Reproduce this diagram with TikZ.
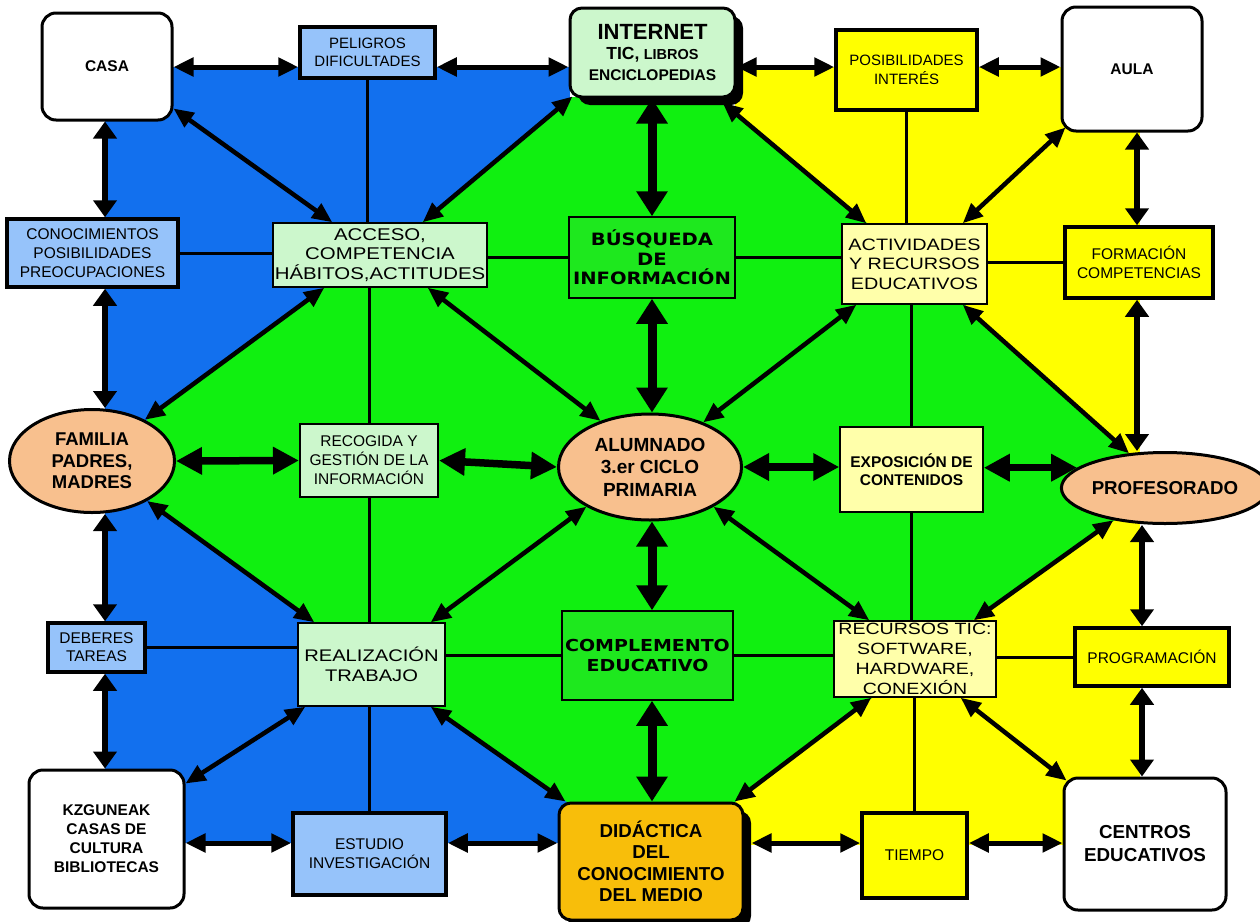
\documentclass[tikz,border=0pt]{standalone}
\usepackage{fontspec}
\setmainfont{Liberation Sans}
\newfontfamily\widefont[FakeStretch=1.2]{Liberation Sans}
\newfontfamily\widebold[FakeStretch=1.15]{DejaVu Sans}
\usetikzlibrary{arrows.meta,shapes.geometric,shadows}
\newcommand\setfs[2]{\fontsize{#1}{#2}\selectfont}

\definecolor{bgblue}{RGB}{18,112,238}
\definecolor{bggreen}{RGB}{16,240,16}
\definecolor{bgyellow}{RGB}{255,255,0}
\definecolor{boxblue}{RGB}{150,195,250}
\definecolor{boxmint}{RGB}{204,247,204}
\definecolor{boxcream}{RGB}{255,255,170}
\definecolor{boxgreen}{RGB}{30,232,30}
\definecolor{peach}{RGB}{248,192,142}
\definecolor{amber}{RGB}{248,190,10}

\tikzset{
  base/.style={draw=black, inner sep=0pt, align=center, text=black},
  venue/.style={base, rectangle, rounded corners=14pt, line width=3pt, fill=white},
  thickbox/.style={base, rectangle, line width=3.5pt},
  thinbox/.style={base, rectangle, line width=1.5pt},
  oval/.style={base, ellipse, line width=3pt, fill=peach},
  shade/.style={drop shadow={shadow xshift=8pt, shadow yshift=-8pt, opacity=1, fill=black}},
  link/.style={line width=3pt},
  arrH/.style={line width=5pt, {Triangle[length=20pt,width=18pt]}-{Triangle[length=20pt,width=18pt]}},
  arrV/.style={line width=5.5pt, {Triangle[length=17pt,width=23pt]}-{Triangle[length=17pt,width=23pt]}},
  arrM/.style={line width=7.5pt, {Triangle[length=26pt,width=26pt]}-{Triangle[length=26pt,width=26pt]}},
  arrC/.style={line width=9pt, {Triangle[length=25pt,width=30pt]}-{Triangle[length=25pt,width=30pt]}},
  arrD/.style={line width=4.5pt, {Triangle[length=20pt,width=17pt]}-{Triangle[length=20pt,width=17pt]}},
}

\begin{document}
\begin{tikzpicture}[x=1pt, y=-1pt]
\path[use as bounding box, fill=white] (0,0) rectangle (1260,921);

% coloured quarters behind the map
\fill[bgblue] (105,67) rectangle (570,843);
\fill[bgyellow] (735,67) rectangle (1140,845);
\fill[bggreen] (572,97) -- (722,100) -- (867,223) -- (962,302) -- (1130,455)
  -- (1118,518) -- (973,620) -- (872,698) -- (735,802) -- (567,802)
  -- (430,705) -- (315,623) -- (150,503) -- (147,418) -- (325,287)
  -- (422,222) -- cycle;

% places
\node[venue, minimum width=130pt, minimum height=107pt, font=\bfseries\setfs{15.5}{18}] (casa) at (107,66.5) {CASA};
\node[venue, minimum width=140pt, minimum height=124pt, font=\bfseries\setfs{15.5}{18}] (aula) at (1132,69) {AULA};
\node[venue, minimum width=155pt, minimum height=138pt, font=\bfseries\setfs{15.5}{19}] (kzgune) at (106.5,839) {KZGUNEAK\\CASAS DE\\CULTURA\\BIBLIOTECAS};
\node[venue, minimum width=162pt, minimum height=132pt, font=\bfseries\setfs{18.8}{23}] (centros) at (1145,844) {CENTROS\\EDUCATIVOS};
\node[venue, shade, fill=boxmint, rounded corners=12pt, minimum width=165pt, minimum height=89pt, font=\bfseries\setfs{15.5}{20.5}] (internet) at (652.5,52.5)
  {{\setfs{22}{20.5}INTERNET}\\{\setfs{17.5}{20.5}TIC,} {\setfs{14.5}{20.5}LIBROS}\\ENCICLOPEDIAS};
\node[venue, shade, fill=amber, rounded corners=12pt, minimum width=184pt, minimum height=117pt, font=\bfseries\setfs{18.7}{21.5}] (didac) at (651,861.5)
  {\raisebox{-4pt}{\parbox{184pt}{\centering DIDÁCTICA\\DEL\\CONOCIMIENTO\\DEL MEDIO}}};

% outer boxes
\node[thickbox, fill=boxblue, minimum width=135pt, minimum height=51pt, font=\setfs{15}{18}] (peligros) at (367.5,52.5) {PELIGROS\\DIFICULTADES};
\node[thickbox, fill=bgyellow, minimum width=141pt, minimum height=80pt, font=\setfs{15}{19}] (posib) at (906.5,70) {POSIBILIDADES\\INTERÉS};
\node[thickbox, fill=boxblue, minimum width=171pt, minimum height=68pt, font=\setfs{15.5}{19}] (conoc) at (92.5,253) {CONOCIMIENTOS\\POSIBILIDADES\\PREOCUPACIONES};
\node[thickbox, fill=bgyellow, minimum width=148pt, minimum height=71pt, font=\setfs{15.5}{19}] (formac) at (1139,262.5) {FORMACIÓN\\COMPETENCIAS};
\node[thickbox, fill=boxblue, minimum width=97pt, minimum height=49pt, font=\setfs{15.5}{18}] (deberes) at (96.5,647.5) {DEBERES\\TAREAS};
\node[thickbox, fill=bgyellow, minimum width=154pt, minimum height=58pt, font=\setfs{15.5}{18}] (program) at (1152,657) {PROGRAMACIÓN};
\node[thickbox, fill=boxblue, minimum width=153pt, minimum height=82pt, font=\setfs{15.5}{19}] (estudio) at (369.5,854) {ESTUDIO\\INVESTIGACIÓN};
\node[thickbox, fill=bgyellow, minimum width=105pt, minimum height=85pt, font=\setfs{15.5}{18}] (tiempo) at (914.5,855.5) {TIEMPO};

% inner boxes
\node[thinbox, fill=boxmint, minimum width=214pt, minimum height=64pt, font=\widefont\setfs{17}{19.5}] (acceso) at (380,255) {ACCESO,\\COMPETENCIA\\HÁBITOS,ACTITUDES};
\node[thinbox, fill=boxgreen, minimum width=166pt, minimum height=81pt, font=\widebold\bfseries\setfs{17}{19.5}] (busq) at (652,257.5) {BÚSQUEDA\\DE\\INFORMACIÓN};
\node[thinbox, fill=boxcream, minimum width=145pt, minimum height=80pt, font=\widefont\setfs{16.5}{19.5}] (activ) at (914.5,264) {ACTIVIDADES\\Y RECURSOS\\EDUCATIVOS};
\node[base, rectangle, line width=2pt, fill=boxmint, minimum width=138pt, minimum height=73pt, font=\setfs{15.5}{19}] (recog) at (369,460.5) {RECOGIDA Y\\GESTIÓN DE LA\\INFORMACIÓN};
\node[thinbox, fill=boxcream, minimum width=143pt, minimum height=85pt, font=\bfseries\setfs{15.5}{18.5}] (expos) at (911.5,469.5) {EXPOSICIÓN DE\\CONTENIDOS};
\node[thinbox, fill=boxmint, minimum width=147pt, minimum height=83pt, font=\widefont\setfs{16.8}{20}] (realiz) at (371.5,664.5) {REALIZACIÓN\\TRABAJO};
\node[thinbox, fill=boxgreen, minimum width=171pt, minimum height=89pt, font=\widebold\bfseries\setfs{16.5}{20}] (complem) at (647.5,655.5) {COMPLEMENTO\\EDUCATIVO};
\node[thinbox, fill=boxcream, minimum width=162pt, minimum height=76pt, font=\widefont\setfs{16.3}{20}] (recursos) at (915,659) {RECURSOS TIC:\\SOFTWARE,\\HARDWARE,\\CONEXIÓN};

% people
\node[oval, minimum width=165pt, minimum height=103pt, font=\bfseries\setfs{18.5}{21.5}] (familia) at (92,461) {FAMILIA\\PADRES,\\MADRES};
\node[oval, minimum width=183pt, minimum height=106pt, font=\bfseries\setfs{19}{22.5}] (alumn) at (650,467) {ALUMNADO\\3.er CICLO\\PRIMARIA};
\node[oval, minimum width=185pt, minimum height=71pt, font=\bfseries\setfs{18.7}{22}] (prof) at (1165,488) {PROFESORADO};

% guide levels for the straight runs
\coordinate (rowtop) at (0,67);
\coordinate (rowbot) at (0,843);
\coordinate (colleft) at (105,0);
\coordinate (colrightA) at (1137,0);
\coordinate (colrightB) at (1142,0);
\coordinate (colmid) at (652,0);

% plain links
\draw[link] (peligros.south) -- (peligros.south |- acceso.north);
\draw[link] (recog.north |- acceso.south) -- (recog.north);
\draw[link] (recog.south) -- (recog.south |- realiz.north);
\draw[link] (estudio.north |- realiz.south) -- (estudio.north);
\draw[link] (posib.south) -- (posib.south |- activ.north);
\draw[link] (expos.north |- activ.south) -- (expos.north);
\draw[link] (expos.south) -- (expos.south |- recursos.north);
\draw[link] (tiempo.north |- recursos.south) -- (tiempo.north);
\draw[link] (conoc.east) -- (conoc.east -| acceso.west);
\draw[link] (acceso.east |- busq.west) -- (busq.west);
\draw[link] (busq.east) -- (busq.east -| activ.west);
\draw[link] (activ.east |- formac.west) -- (formac.west);
\draw[link] (deberes.east) -- (deberes.east -| realiz.west);
\draw[link] (realiz.east |- complem.west) -- (complem.west);
\draw[link] (complem.east) -- (complem.east -| recursos.west);
\draw[link] (recursos.east |- program.west) -- (program.west);

% top and bottom rows
\draw[arrH] (casa.east |- rowtop) -- (peligros.west |- rowtop);
\draw[arrH] (peligros.east |- rowtop) -- (internet.west |- rowtop);
\draw[arrH] (internet.east |- rowtop) -- (posib.west |- rowtop);
\draw[arrH] (posib.east |- rowtop) -- (aula.west |- rowtop);
\draw[arrH] (kzgune.east |- rowbot) -- (estudio.west |- rowbot);
\draw[arrH] (estudio.east |- rowbot) -- (didac.west |- rowbot);
\draw[arrH] ([xshift=7pt]didac.east |- rowbot) -- (tiempo.west |- rowbot);
\draw[arrH] (tiempo.east |- rowbot) -- (centros.west |- rowbot);

% side columns
\draw[arrV] (casa.south -| colleft) -- (conoc.north -| colleft);
\draw[arrV] (conoc.south -| colleft) -- (familia.north -| colleft);
\draw[arrV] (familia.south -| colleft) -- (deberes.north -| colleft);
\draw[arrV] (deberes.south -| colleft) -- (kzgune.north -| colleft);
\draw[arrV] (aula.south -| colrightA) -- (formac.north -| colrightA);
\draw[arrV] (formac.south -| colrightA) -- (prof.north -| colrightA);
\draw[arrV] (prof.south -| colrightB) -- (program.north -| colrightB);
\draw[arrV] (program.south -| colrightB) -- (centros.north -| colrightB);

% middle row and column
\draw[arrM] (familia.east) -- (recog.west);
\draw[arrM] (recog.east) -- (alumn.west);
\draw[arrM] (alumn.east) -- (alumn.east -| expos.west);
\draw[arrM] (expos.east |- prof.167) -- (prof.167);
\draw[arrC] (internet.south -| colmid) -- (busq.north -| colmid);
\draw[arrC] (busq.south -| colmid) -- (alumn.north -| colmid);
\draw[arrC] (alumn.south -| colmid) -- (complem.north -| colmid);
\draw[arrC] (complem.south -| colmid) -- (didac.north -| colmid);

% diagonals
\draw[arrD] ([yshift=13pt]casa.south east) -- ([xshift=60pt]acceso.north west);
\draw[arrD] ([xshift=4pt,yshift=2pt]internet.south west) -- ([xshift=-65pt]acceso.north east);
\draw[arrD] ([xshift=52pt]acceso.south west) -- (familia.38);
\draw[arrD] ([xshift=-60pt]acceso.south east) -- (alumn.137);
\draw[arrD] ([xshift=-14pt,yshift=-4pt]internet.south east) -- ([xshift=25pt]activ.north west);
\draw[arrD] ([xshift=5pt,yshift=5pt]aula.south west) -- ([xshift=-25pt]activ.north east);
\draw[arrD] ([xshift=-25pt]activ.south east) -- (prof.136);
\draw[arrD] ([xshift=15pt]activ.south west) -- (alumn.40);
\draw[arrD] (familia.324) -- ([xshift=17pt]realiz.north west);
\draw[arrD] (alumn.212) -- ([xshift=-15pt]realiz.north east);
\draw[arrD] ([xshift=8pt]realiz.south west) -- ([yshift=-15pt]kzgune.north east);
\draw[arrD] ([xshift=-15pt]realiz.south east) -- ([xshift=8pt]didac.north west);
\draw[arrD] (alumn.328) -- ([xshift=36pt]recursos.north west);
\draw[arrD] (prof.212) -- ([xshift=-23pt]recursos.north east);
\draw[arrD] ([xshift=38pt]recursos.south west) -- ([xshift=-10pt]didac.north east);
\draw[arrD] ([xshift=-36pt]recursos.south east) -- ([xshift=4pt,yshift=-4pt]centros.north west);
\end{tikzpicture}
\end{document}
